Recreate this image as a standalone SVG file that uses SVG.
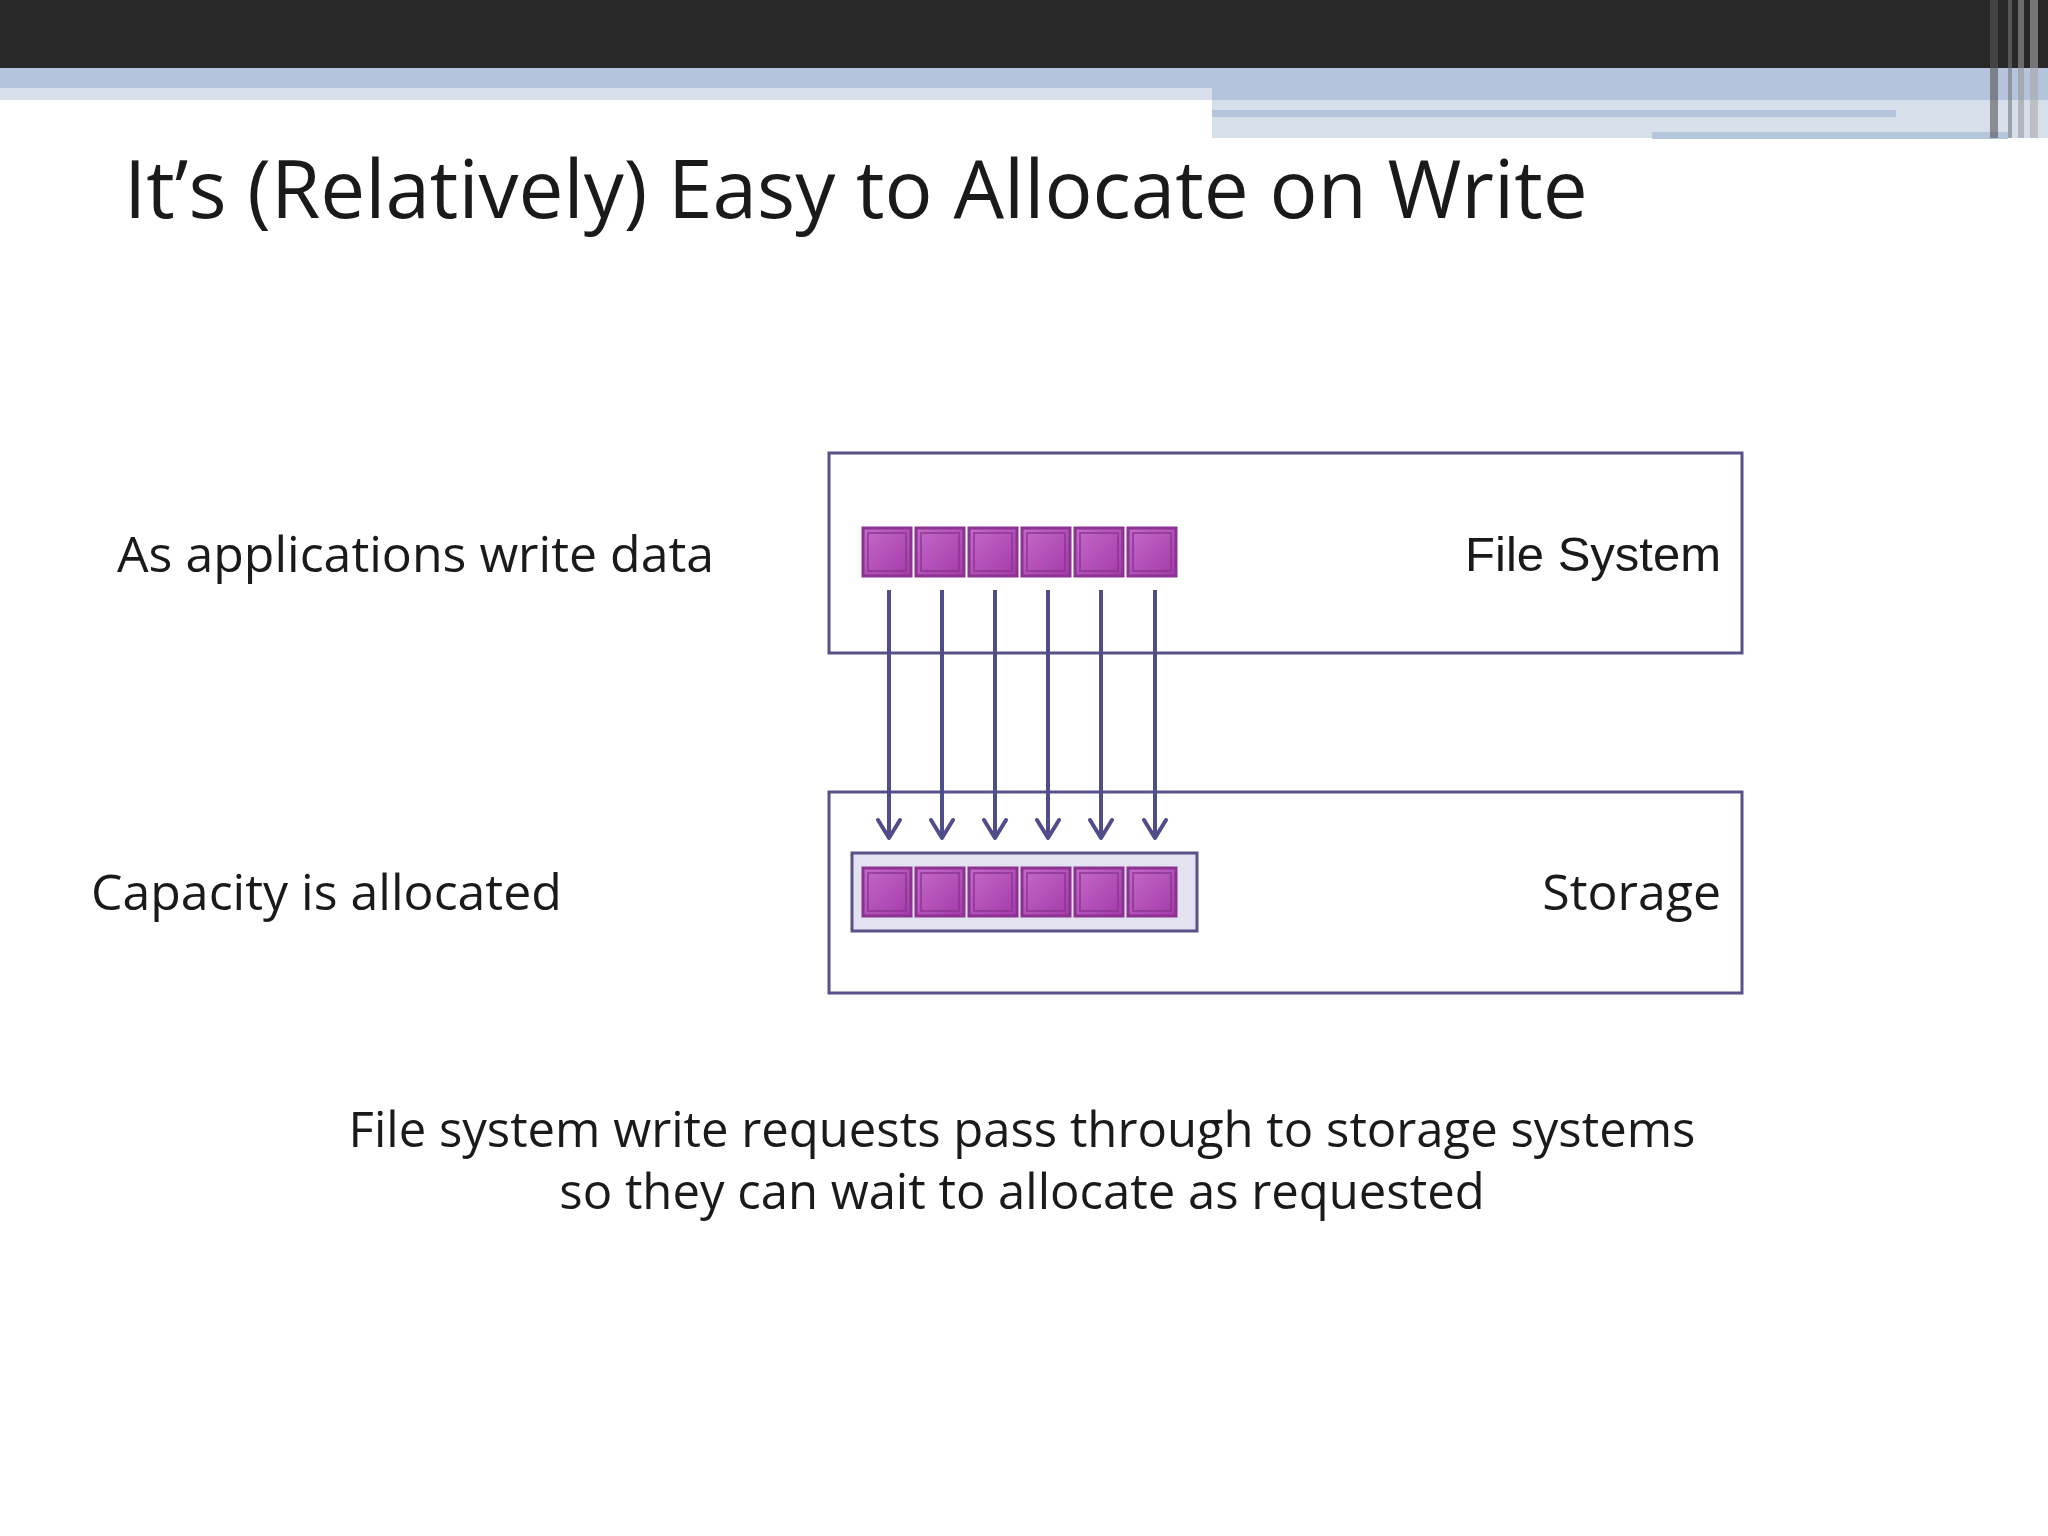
<svg xmlns="http://www.w3.org/2000/svg" width="2048" height="1536" viewBox="0 0 2048 1536">
<defs>
<style>
.t{font-family:"Open Sans","Noto Sans",sans-serif;fill:#1a1a1a}
.box{fill:none;stroke:#58528a;stroke-width:3}
</style>
<linearGradient id="g" x1="0" y1="0" x2="1" y2="1"><stop offset="0" stop-color="#c46bc9"/><stop offset="1" stop-color="#a43aa9"/></linearGradient>
</defs>
<rect width="2048" height="1536" fill="#fff"/>
<rect width="2048" height="68" fill="#282828"/>
<rect y="68" width="2048" height="32" fill="#b4c4dc"/>
<rect y="88" width="1212" height="12" fill="#d6dfeb"/>
<rect x="1212" y="100" width="836" height="38" fill="#d7e0ea"/>
<rect x="1212" y="110" width="684" height="7" fill="#b4c4dc"/>
<rect x="1652" y="132" width="356" height="7" fill="#b4c6dc"/>
<rect x="1990" y="0" width="8" height="138" fill="#555" opacity="0.6"/>
<rect x="2008" y="0" width="4" height="138" fill="#777" opacity="0.6"/>
<rect x="2018" y="0" width="6" height="138" fill="#999" opacity="0.6"/>
<rect x="2030" y="0" width="8" height="138" fill="#aaa" opacity="0.6"/>
<text class="t" x="124" y="218" font-size="80" fill="#262626">It’s (Relatively) Easy to Allocate on Write</text>
<g id="fs">
<rect class="box" x="829" y="453" width="913" height="200"/>
<text x="1721" y="571" font-size="49" text-anchor="end" font-family="Liberation Sans,Arial,sans-serif" fill="#1a1a1a">File System</text>
<g fill="url(#g)" stroke="#8a3390" stroke-width="3">
<rect x="863" y="528" width="48" height="48"/><rect x="916" y="528" width="48" height="48"/><rect x="969" y="528" width="48" height="48"/><rect x="1022" y="528" width="48" height="48"/><rect x="1075" y="528" width="48" height="48"/><rect x="1128" y="528" width="48" height="48"/>
</g>
<g fill="none" stroke="#8a3390" stroke-width="2" opacity="0.7">
<rect x="868" y="533" width="38" height="38"/><rect x="921" y="533" width="38" height="38"/><rect x="974" y="533" width="38" height="38"/><rect x="1027" y="533" width="38" height="38"/><rect x="1080" y="533" width="38" height="38"/><rect x="1133" y="533" width="38" height="38"/>
</g>
</g>
<g id="st">
<rect class="box" x="829" y="792" width="913" height="201"/>
<rect x="852" y="853" width="345" height="78" fill="#e4e2f0" stroke="#58528a" stroke-width="3"/>
<text class="t" x="1721" y="910" font-size="50" text-anchor="end">Storage</text>
<g fill="url(#g)" stroke="#8a3390" stroke-width="3">
<rect x="863" y="868" width="48" height="48"/><rect x="916" y="868" width="48" height="48"/><rect x="969" y="868" width="48" height="48"/><rect x="1022" y="868" width="48" height="48"/><rect x="1075" y="868" width="48" height="48"/><rect x="1128" y="868" width="48" height="48"/>
</g>
<g fill="none" stroke="#8a3390" stroke-width="2" opacity="0.7">
<rect x="868" y="873" width="38" height="38"/><rect x="921" y="873" width="38" height="38"/><rect x="974" y="873" width="38" height="38"/><rect x="1027" y="873" width="38" height="38"/><rect x="1080" y="873" width="38" height="38"/><rect x="1133" y="873" width="38" height="38"/>
</g>
</g>
<g id="connectors" fill="none" stroke="#514c8a" stroke-width="4">
<line x1="889" y1="590" x2="889" y2="838"/><line x1="942" y1="590" x2="942" y2="838"/><line x1="995" y1="590" x2="995" y2="838"/><line x1="1048" y1="590" x2="1048" y2="838"/><line x1="1101" y1="590" x2="1101" y2="838"/><line x1="1155" y1="590" x2="1155" y2="838"/>
<path d="M878,820 L889,838 L900,820 M931,820 L942,838 L953,820 M984,820 L995,838 L1006,820 M1037,820 L1048,838 L1059,820 M1090,820 L1101,838 L1112,820 M1144,820 L1155,838 L1166,820" stroke-linecap="round" stroke-linejoin="round"/>
</g>
<text class="t" x="117" y="572" font-size="50">As applications write data</text>
<text class="t" x="91" y="910" font-size="50">Capacity is allocated</text>
<text class="t" x="1022" y="1147" font-size="49" text-anchor="middle">File system write requests pass through to storage systems</text>
<text class="t" x="1022" y="1209" font-size="49" text-anchor="middle">so they can wait to allocate as requested</text>
</svg>
